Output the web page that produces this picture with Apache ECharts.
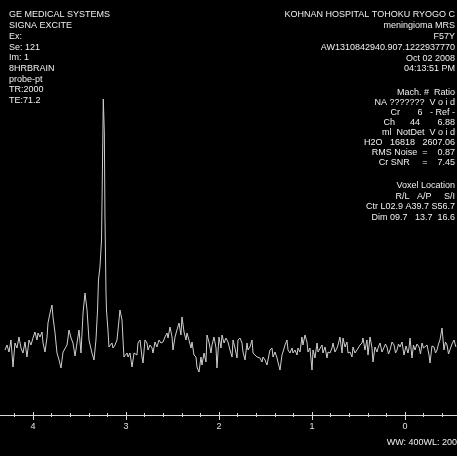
<!DOCTYPE html>
<html>
<head>
<meta charset="utf-8">
<title>MRS spectrum</title>
<script src="https://cdn.jsdelivr.net/npm/echarts@6/dist/echarts.min.js"></script>
<style>
    html, body { margin: 0; padding: 0; background: #000; }
    #chart { width: 457px; height: 456px; }
</style>
</head>
<body>
<div id="chart"></div>
<script>
    // chemical shift (ppm) and signal
    var ppm = [
        4.301, 4.280, 4.258, 4.237, 4.215, 4.194, 4.172, 4.151, 4.129, 4.108,
        4.086, 4.065, 4.043, 4.022, 4.000, 3.979, 3.957, 3.946, 3.925, 3.903,
        3.892, 3.871, 3.849, 3.839, 3.817, 3.796, 3.785, 3.763, 3.742, 3.720,
        3.699, 3.677, 3.656, 3.634, 3.613, 3.591, 3.570, 3.548, 3.527, 3.505,
        3.484, 3.462, 3.441, 3.419, 3.398, 3.366, 3.344, 3.323, 3.306, 3.296,
        3.280, 3.263, 3.255, 3.244, 3.233, 3.226, 3.215, 3.210, 3.194, 3.183,
        3.151, 3.140, 3.118, 3.097, 3.086, 3.065, 3.043, 3.032, 3.022, 2.989,
        2.978, 2.957, 2.935, 2.914, 2.882, 2.871, 2.849, 2.828, 2.817, 2.796,
        2.774, 2.763, 2.742, 2.720, 2.710, 2.688, 2.667, 2.645, 2.624, 2.602,
        2.581, 2.559, 2.548, 2.527, 2.505, 2.495, 2.473, 2.452, 2.430, 2.409,
        2.398, 2.376, 2.355, 2.344, 2.323, 2.301, 2.290, 2.269, 2.247, 2.237,
        2.215, 2.194, 2.183, 2.161, 2.140, 2.129, 2.108, 2.086, 2.075, 2.054,
        2.032, 2.022, 2.000, 1.978, 1.968, 1.946, 1.925, 1.903, 1.882, 1.860,
        1.849, 1.828, 1.806, 1.796, 1.774, 1.753, 1.742, 1.720, 1.699, 1.688,
        1.667, 1.645, 1.634, 1.613, 1.591, 1.581, 1.559, 1.538, 1.527, 1.505,
        1.484, 1.473, 1.452, 1.430, 1.419, 1.398, 1.376, 1.366, 1.344, 1.323,
        1.312, 1.290, 1.269, 1.258, 1.237, 1.215, 1.204, 1.183, 1.161, 1.151,
        1.129, 1.108, 1.097, 1.075, 1.054, 1.043, 1.022, 1.000, 0.989, 0.968,
        0.946, 0.935, 0.914, 0.892, 0.882, 0.860, 0.839, 0.828, 0.806, 0.785,
        0.774, 0.753, 0.731, 0.720, 0.699, 0.677, 0.667, 0.645, 0.624, 0.613,
        0.591, 0.570, 0.559, 0.538, 0.516, 0.505, 0.484, 0.462, 0.452, 0.430,
        0.409, 0.398, 0.376, 0.355, 0.344, 0.323, 0.301, 0.290, 0.269, 0.247,
        0.226, 0.210, 0.194, 0.177, 0.161, 0.140, 0.118, 0.102, 0.086, 0.070,
        0.054, 0.032, 0.011, -0.011, -0.032, -0.043, -0.054, -0.075, -0.091, -0.108,
        -0.129, -0.151, -0.167, -0.183, -0.199, -0.215, -0.237, -0.258, -0.269, -0.290,
        -0.312, -0.328, -0.344, -0.360, -0.376, -0.398, -0.419, -0.435, -0.452, -0.468,
        -0.484, -0.505, -0.527, -0.548
    ];
    var signal = [
        0, 5, -2, 10, -17, 7, 2, 13, 2, -3,
        8, -7, 10, 5, 12, 18, 10, 17, 13, 18,
        7, -2, 13, 27, 37, 45, 33, 17, -3, -10,
        -18, -2, -3, 5, 20, 12, 7, -6, 7, 20,
        -3, 37, 57, 40, 10, -3, -10, 10, 40, 70,
        83, 110, 170, 251, 217, 133, 57, 40, 20, 3,
        7, 2, 5, 10, 20, 40, 30, 10, -7, -3,
        -7, -3, -17, -3, -5, 7, 10, -7, -13, 10,
        7, 0, 5, 2, -3, 8, 3, 10, 7, 8,
        13, 17, 12, 23, 13, 0, 13, 20, 27, 15,
        33, 18, 10, 17, 10, 2, 8, -5, -7, -17,
        -22, -7, -15, -3, -12, 15, 8, -3, 5, 13,
        2, -18, 13, 2, 15, 7, 12, 8, 0, -7,
        10, 2, -8, 10, 12, 7, -2, -10, 7, 0,
        3, 10, -3, -5, -7, -5, -8, -12, -7, -10,
        -15, -17, 0, 2, -7, -2, -8, -12, -20, -5,
        -2, 5, 10, 0, -3, 2, -3, 0, -5, 2,
        -2, 13, 5, 15, 8, -2, 2, -20, 0, -8,
        7, -2, 0, 5, -3, 3, -8, -2, -3, 2,
        7, -2, 2, 5, 13, -3, 12, 3, 8, -3,
        -2, -7, 3, -3, 0, -2, 5, 7, 12, 0,
        10, -5, 13, 2, -12, 3, -2, 2, 7, -2,
        -3, 6, 3, -4, 0, 8, 5, -3, 0, 6,
        3, 8, -5, 4, -3, 2, 12, -8, 5, 0,
        6, 3, -4, 7, 2, 0, 5, -5, -13, 4,
        3, -3, 0, 6, 10, 22, 0, 8, 5, -4,
        -2, 6, 10, 3
    ];

    var headerLeft = ['GE MEDICAL SYSTEMS', 'SIGNA EXCITE', 'Ex:', 'Se: 121', 'Im: 1',
        '8HRBRAIN', 'probe-pt', 'TR:2000', 'TE:71.2'];
    var headerRight = ['KOHNAN HOSPITAL TOHOKU RYOGO C', 'meningioma MRS', 'F57Y',
        'AW1310842940.907.1222937770', 'Oct 02 2008', '04:13:51 PM'];
    var ratioRows = ['Mach. #  Ratio', 'NA ???????  V o i d', 'Cr       6   - Ref -',
        'Ch      44       6.88', 'ml  NotDet  V o i d', 'H2O   16818   2607.06',
        'RMS Noise  =    0.87', 'Cr SNR     =    7.45'];
    var voxelRows = ['Voxel Location', 'R/L   A/P     S/I', 'Ctr L02.9 A39.7 S56.7',
        'Dim 09.7   13.7  16.6'];
    var footer = 'WW: 400WL: 200';

    var textColor = '#f0f0f0';
    var font = '9px "Liberation Sans", Arial, sans-serif';

    function textBlock(lines, x, y0, step, align) {
        return lines.map(function (t, i) {
            return {
                type: 'text',
                silent: true,
                style: {
                    text: t, x: x, y: y0 + i * step,
                    fill: textColor, font: font,
                    textAlign: align, textVerticalAlign: 'middle'
                }
            };
        });
    }

    var chart = echarts.init(document.getElementById('chart'));
    var axisColor = '#d8d8d8';

    chart.setOption({
        backgroundColor: '#000',
        animation: false,
        grid: { left: -60, right: -41, top: 0, bottom: 56, outerBoundsMode: 'none', containLabel: false },
        xAxis: [
            {
                type: 'value', inverse: true, min: -1, max: 5, interval: 1,
                offset: 15,
                axisLine: { onZero: false, lineStyle: { color: axisColor, width: 1 } },
                axisTick: { show: true, length: 5, lineStyle: { color: axisColor } },
                minorTick: { show: true, splitNumber: 5, length: 2, lineStyle: { color: axisColor } },
                axisLabel: { color: '#e0e0e0', fontSize: 9, margin: 7, fontFamily: 'Liberation Sans' },
                splitLine: { show: false }
            },
            {
                type: 'value', inverse: true, min: -1, max: 5, interval: 1,
                offset: 15, position: 'bottom',
                axisLine: { show: false, onZero: false },
                axisTick: { show: true, inside: true, length: 3, lineStyle: { color: axisColor } },
                minorTick: { show: true, splitNumber: 5, length: 2, lineStyle: { color: axisColor } },
                axisLabel: { show: false },
                splitLine: { show: false }
            }
        ],
        yAxis: { type: 'value', min: -50, max: 350, show: false },
        series: [{
            type: 'line',
            showSymbol: false,
            lineStyle: { color: '#cfcfcf', width: 1 },
            data: ppm.map(function (p, i) { return [p, signal[i]]; })
        }],
        graphic: []
            .concat(textBlock(headerLeft, 9, 15, 10.7, 'left'))
            .concat(textBlock(headerRight, 455, 15, 10.8, 'right'))
            .concat(textBlock(ratioRows, 455, 93, 10, 'right'))
            .concat(textBlock(voxelRows, 455, 186, 10.4, 'right'))
            .concat(textBlock([footer], 457, 443, 10, 'right'))
    });
</script>
</body>
</html>
